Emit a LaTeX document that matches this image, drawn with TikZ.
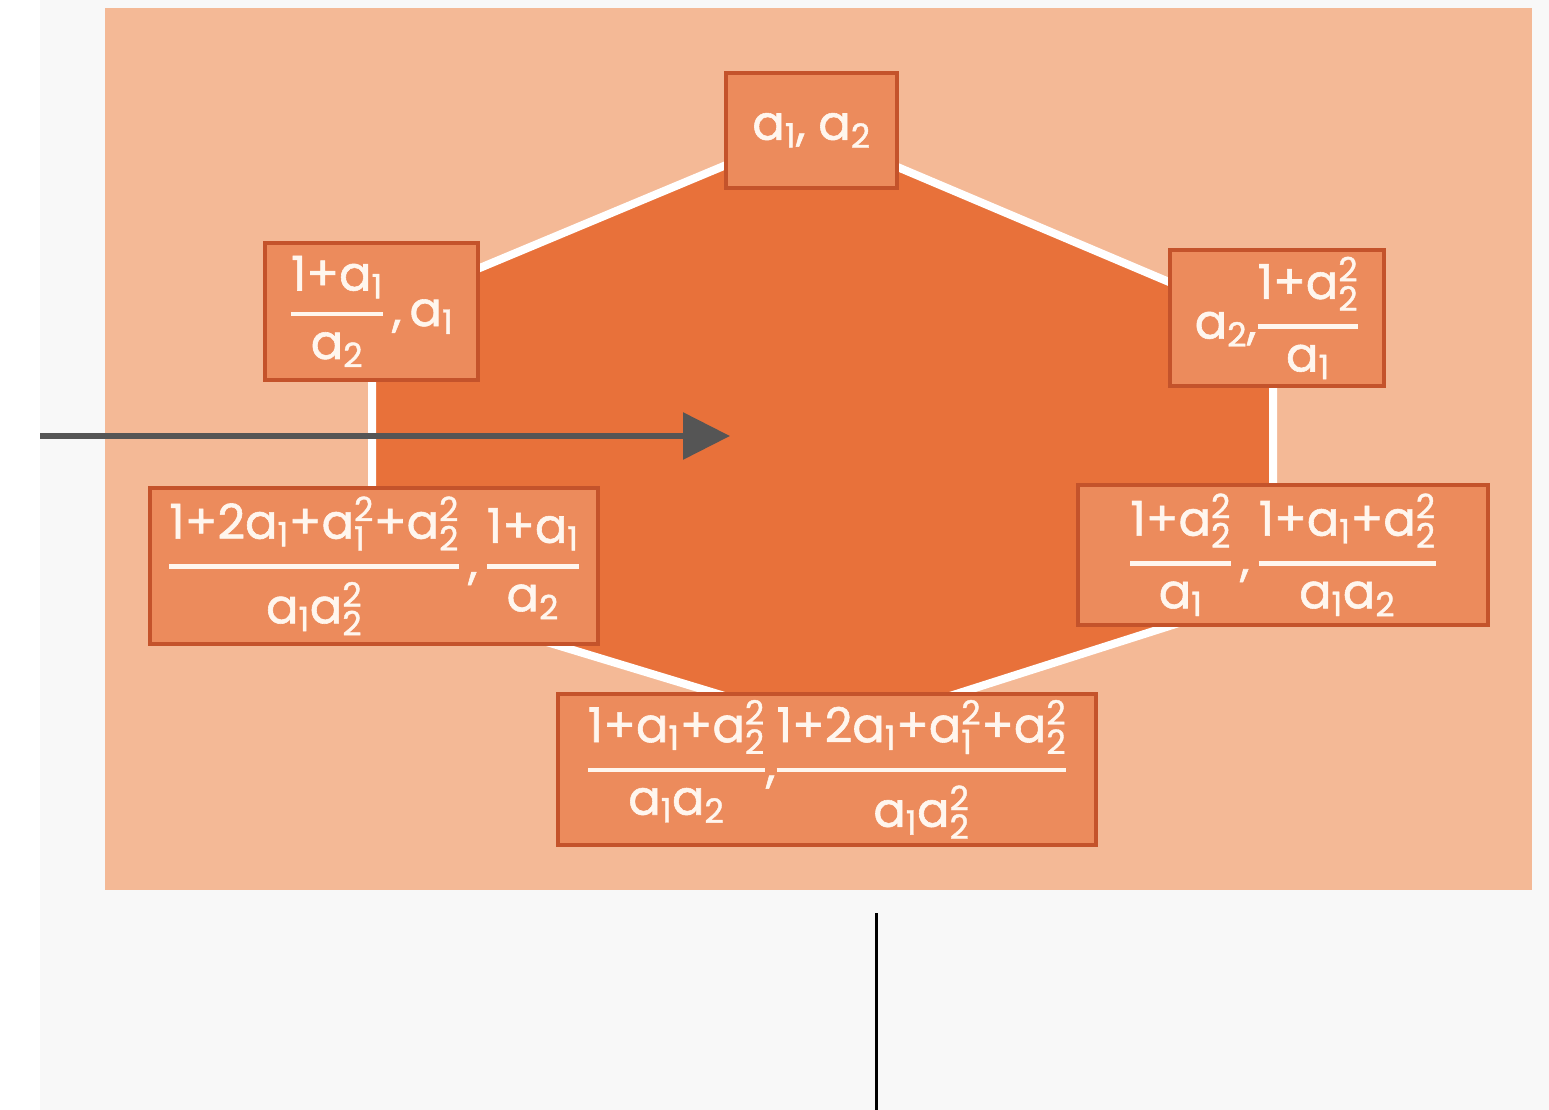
\RequirePackage{fix-cm}
\documentclass[tikz,border=0pt]{standalone}
\usepackage{amsmath}
\usepackage{fontspec}
\setmainfont{Poppins}
\newfontfamily\valfont{Poppins}[FakeBold=1.2]
\usetikzlibrary{arrows.meta}
\definecolor{pagegray}{HTML}{F8F8F8}
\definecolor{peach}{HTML}{F4B996}
\definecolor{boxfill}{HTML}{EC8B5C}
\definecolor{boxline}{HTML}{C4532B}
\definecolor{hexfill}{HTML}{E8713A}
\definecolor{arrowgray}{HTML}{555555}
\definecolor{txt}{HTML}{FFF6EE}
% fraction with a thick bar
\newcommand\fr[2]{\genfrac{}{}{4.5pt}{0}{#1}{#2}}
\newcommand\sa[1]{\text{a}_{\text{#1}}}
\newcommand\sq[1]{\text{a}^{\text{2}}_{\text{#1}}}
\newcommand\tx[1]{\text{#1}}
\newcommand\cm{\,\tx{,}\,}
\tikzset{
  valbox/.style={draw=boxline, fill=boxfill, line width=4pt, inner sep=0pt,
    text=txt, font=\valfont\fontsize{48}{56}\selectfont},
}
\begin{document}
\begin{tikzpicture}[x=1pt,y=-1pt]
\useasboundingbox (0,0) rectangle (1549,1110);
% backgrounds
\fill[pagegray] (40,0) rectangle (1549,1110);
\fill[peach] (105,8) rectangle (1532,890);
% hexagon
\coordinate (h1) at (810,130);
\coordinate (h2) at (1273,326);
\coordinate (h3) at (1273,593);
\coordinate (h4) at (840,731);
\coordinate (h5) at (372,589);
\coordinate (h6) at (372,313);
\filldraw[fill=hexfill, draw=white, line width=8pt, line join=miter]
  (h1) -- (h2) -- (h3) -- (h4) -- (h5) -- (h6) -- cycle;
% value boxes
\node[valbox, minimum width=171pt, minimum height=115pt] (top) at (811.5,130.5)
  {$\sa1\tx{, }\sa2$};
\node[valbox, minimum width=213pt, minimum height=137pt] (ul) at (371.5,311.5)
  {$\fr{\tx{1+}\sa1}{\sa2}\cm\sa1$};
\node[valbox, minimum width=214pt, minimum height=136pt] (ur) at (1277,318)
  {$\sa2\tx{,}\fr{\tx{1+}\sq2}{\sa1}$};
\node[valbox, minimum width=448pt, minimum height=156pt] (lft) at (374,566)
  {$\fr{\tx{1+2}\sa1\tx{+}\sq1\tx{+}\sq2}{\sa1\sq2}\cm\fr{\tx{1+}\sa1}{\sa2}$};
\node[valbox, minimum width=410pt, minimum height=140pt] (rgt) at (1283,555)
  {$\fr{\tx{1+}\sq2}{\sa1}\cm\fr{\tx{1+}\sa1\tx{+}\sq2}{\sa1\sa2}$};
\node[valbox, minimum width=538pt, minimum height=151pt] (bot) at (827,769.5)
  {$\fr{\tx{1+}\sa1\tx{+}\sq2}{\sa1\sa2}\tx{,}\fr{\tx{1+2}\sa1\tx{+}\sq1\tx{+}\sq2}{\sa1\sq2}$};
% incoming arrow
\coordinate (ain) at (40,436);
\coordinate (aout) at (730,436);
\draw[arrowgray, line width=6pt, -{Triangle[length=47pt,width=46pt]}] (ain) -- (aout);
% vertical rule below
\coordinate (v1) at (876,913);
\coordinate (v2) at (876,1110);
\draw[black, line width=3pt] (v1) -- (v2);
\end{tikzpicture}
\end{document}
